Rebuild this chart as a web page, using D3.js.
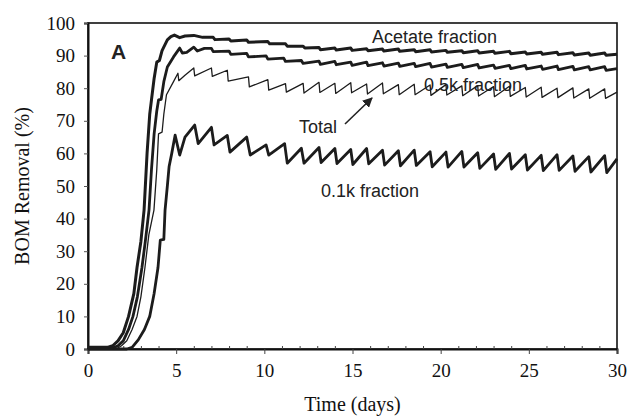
<!DOCTYPE html>
<html>
<head>
<meta charset="utf-8">
<script src="https://cdn.jsdelivr.net/npm/d3@7"></script>
<style>
  html, body { margin: 0; padding: 0; background: #fff; }
  svg { display: block; }
</style>
</head>
<body>
<svg id="chart" width="634" height="417"></svg>
<script>
// BOM removal over time for each fraction: [day, removal %]
const acetate = [
  [0, 0.5], [1.1, 0.5], [1.4, 1], [1.7, 2.5], [2.0, 5], [2.3, 10], [2.6, 17], [2.78, 25],
  [3.0, 33], [3.18, 42.6], [3.35, 60], [3.5, 72], [3.6, 76.4], [3.75, 83], [3.9, 88],
  [4.05, 88.5], [4.2, 91.5], [4.5, 94.8], [4.7, 95.8], [4.9, 96.3], [5.2, 95.5], [5.5, 96],
  [6.0, 96.2], [6.5, 95.6], [7.1, 95.6], [7.2, 94.9], [8.0, 95.1], [8.1, 94.5], [9.0, 94.8],
  [9.1, 94.1], [10.2, 94.3], [10.3, 93.6], [11.2, 93.6], [11.3, 92.9], [12.2, 92.9], [12.3, 92.3],
  [13.1, 92.5], [13.18, 91.8], [14.0, 92.3], [14.08, 91.7], [14.9, 92.3], [14.98, 91.6],
  [15.8, 92.1], [15.88, 91.5], [16.7, 92.0], [16.78, 91.4], [17.6, 92.0], [17.68, 91.3],
  [18.5, 91.8], [18.58, 91.2], [19.4, 91.8], [19.48, 91.1], [20.3, 91.6], [20.38, 91.0],
  [21.2, 91.5], [21.28, 90.9], [22.1, 91.5], [22.18, 90.8], [23.0, 91.3], [23.08, 90.7],
  [23.9, 91.3], [23.98, 90.6], [24.8, 91.1], [24.88, 90.5], [25.7, 91.0], [25.78, 90.4],
  [26.6, 91.0], [26.68, 90.3], [27.5, 90.9], [27.58, 90.2], [28.4, 90.8], [28.48, 90.1],
  [29.3, 90.8], [29.38, 90.1], [30, 90.4]
];

const fraction05k = [
  [0, 0.3], [1.4, 0.3], [1.7, 1], [2.0, 2.5], [2.3, 6], [2.55, 10], [2.8, 16], [3.06, 25],
  [3.25, 33], [3.46, 42.6], [3.6, 55], [3.75, 66], [3.9, 73], [4.0, 76.4], [4.15, 76.6],
  [4.3, 82], [4.5, 86.5], [4.85, 89.6], [5.2, 92.3], [5.35, 90.8], [5.6, 91], [6.0, 92.6],
  [6.2, 91.4], [6.6, 92.2], [7.0, 92.2], [7.1, 91.2], [8.0, 91.4], [8.1, 90.4], [9.0, 90.7],
  [9.1, 89.6], [10.1, 89.9], [10.2, 88.9], [11.1, 89.2], [11.2, 88.2], [12.1, 88.5], [12.2, 87.6],
  [13.1, 88.3], [13.18, 87.3], [14.0, 88.2], [14.08, 87.2], [14.9, 88.0], [14.98, 87.0],
  [15.8, 88.0], [15.88, 86.9], [16.7, 87.8], [16.78, 86.8], [17.6, 87.7], [17.68, 86.7],
  [18.5, 87.6], [18.58, 86.6], [19.4, 87.6], [19.48, 86.5], [20.3, 87.4], [20.38, 86.4],
  [21.2, 87.3], [21.28, 86.3], [22.1, 87.3], [22.18, 86.2], [23.0, 87.1], [23.08, 86.1],
  [23.9, 87.0], [23.98, 86.0], [24.8, 87.0], [24.88, 85.9], [25.7, 86.8], [25.78, 85.8],
  [26.6, 86.8], [26.68, 85.7], [27.5, 86.7], [27.58, 85.6], [28.4, 86.6], [28.48, 85.6],
  [29.3, 86.6], [29.38, 85.5], [30, 86.0]
];

const total = [
  [0, 0], [1.6, 0], [1.9, 1], [2.2, 2.5], [2.5, 6], [2.78, 10], [3.0, 16], [3.23, 25],
  [3.45, 35], [3.74, 42.6], [3.9, 55], [4.0, 66], [4.2, 66.5], [4.3, 72], [4.45, 78],
  [4.85, 82], [5.1, 84.6], [5.15, 82.3], [5.5, 84], [6.0, 86.2], [6.05, 83.8], [7.0, 86.2],
  [7.05, 83.6], [7.9, 85.5], [7.95, 82.2], [9.1, 83.5], [9.15, 80.4], [10.2, 82.6], [10.25, 79.4],
  [11.2, 81.4], [11.25, 78.8], [12.2, 81.5], [12.25, 78.5], [13.1, 81.8], [13.15, 78.7],
  [14.0, 81.5], [14.05, 78.4], [14.9, 81.7], [14.95, 78.6], [15.8, 81.3], [15.85, 78.2],
  [16.7, 81.6], [16.75, 78.3], [17.6, 81.1], [17.65, 78.0], [18.5, 81.2], [18.55, 78.0],
  [19.4, 81.0], [19.45, 77.8], [20.3, 81.1], [20.35, 77.9], [21.2, 80.7], [21.25, 77.7],
  [22.1, 80.8], [22.15, 77.6], [23.0, 80.5], [23.05, 77.4], [23.9, 80.6], [23.95, 77.5],
  [24.8, 80.2], [24.85, 77.3], [25.7, 80.3], [25.75, 77.2], [26.6, 80.0], [26.65, 77.1],
  [27.5, 80.1], [27.55, 77.0], [28.4, 79.8], [28.45, 76.9], [29.3, 79.8], [29.35, 76.9],
  [30, 78.8]
];

const fraction01k = [
  [0, 0], [2.2, 0], [2.5, 0.5], [2.85, 2.8], [3.2, 6], [3.5, 10], [3.75, 17], [3.97, 25],
  [4.1, 33.4], [4.3, 33.6], [4.37, 42.6], [4.5, 50], [4.6, 56], [4.75, 60], [4.94, 65.6],
  [5.2, 59.5], [5.5, 65], [6.05, 68.7], [6.25, 63], [7.0, 68], [7.15, 62.6], [7.9, 65.5],
  [8.05, 60.4], [9.0, 65], [9.2, 59.5], [10.1, 62.6], [10.25, 59.5], [11.15, 63], [11.3, 57],
  [12.1, 61.6], [12.25, 57], [13.1, 61.8], [13.22, 57.2], [14.0, 61.5], [14.12, 56.9],
  [14.9, 61.2], [15.02, 56.6], [15.8, 61.5], [15.92, 56.8], [16.7, 61.0], [16.82, 56.4],
  [17.6, 60.8], [17.72, 56.2], [18.5, 61.0], [18.62, 56.3], [19.4, 60.5], [19.52, 55.9],
  [20.3, 60.4], [20.42, 55.8], [21.2, 60.6], [21.32, 55.8], [22.1, 60.2], [22.22, 55.4],
  [23.0, 59.8], [23.12, 55.1], [23.9, 60.0], [24.02, 55.2], [24.8, 59.6], [24.92, 54.9],
  [25.7, 59.4], [25.82, 54.7], [26.6, 59.6], [26.72, 54.8], [27.5, 59.2], [27.62, 54.5],
  [28.4, 59.0], [28.52, 54.3], [29.3, 59.3], [29.42, 54.1], [30, 58.3]
];

const yTicks = [0, 10, 20, 30, 40, 50, 60, 70, 80, 90, 100];
const xTicks = [0, 5, 10, 15, 20, 25, 30];
const xMinorTicks = d3.range(1, 30).filter(d => d % 5 !== 0);

const svg = d3.select("#chart");
const plot = { left: 88, right: 617, top: 23, bottom: 349 };

const x = d3.scaleLinear().domain([0, 30]).range([plot.left, plot.right]);
const y = d3.scaleLinear().domain([0, 100]).range([plot.bottom, plot.top]);

const serif = "'Liberation Serif', 'Times New Roman', serif";
const sans = "'Liberation Sans', Arial, sans-serif";

// plot frame
svg.append("rect")
  .attr("x", plot.left).attr("y", plot.top)
  .attr("width", plot.right - plot.left).attr("height", plot.bottom - plot.top)
  .attr("fill", "none").attr("stroke", "#111").attr("stroke-width", 1.6);

// y axis
const yAxis = svg.append("g")
  .attr("transform", `translate(${plot.left},0)`)
  .call(d3.axisLeft(y).tickValues(yTicks).tickSize(4).tickPadding(9).tickFormat(d3.format("d")));
yAxis.select(".domain").attr("stroke", "#111").attr("stroke-width", 2);
yAxis.selectAll(".tick line").attr("stroke", "#555");
yAxis.selectAll("text").attr("font-family", serif).attr("font-size", 19).attr("fill", "#111");

// x axis: labelled major ticks and small inner day ticks
const xAxis = svg.append("g")
  .attr("transform", `translate(0,${plot.bottom})`)
  .call(d3.axisBottom(x).tickValues(xTicks).tickSize(5).tickPadding(10));
xAxis.select(".domain").attr("stroke", "#111").attr("stroke-width", 2);
xAxis.selectAll(".tick line").attr("stroke", "#444");
xAxis.selectAll("text").attr("font-family", serif).attr("font-size", 19).attr("fill", "#111");

const xMinor = svg.append("g")
  .attr("transform", `translate(0,${plot.bottom})`)
  .call(d3.axisBottom(x).tickValues(xMinorTicks).tickSize(-3).tickFormat(""));
xMinor.select(".domain").remove();
xMinor.selectAll(".tick line").attr("stroke", "#444");

// axis titles
svg.append("text")
  .attr("x", (plot.left + plot.right) / 2).attr("y", 411)
  .attr("text-anchor", "middle")
  .attr("font-family", serif).attr("font-size", 20).attr("fill", "#111")
  .text("Time (days)");

svg.append("text")
  .attr("transform", `translate(29,${(plot.top + plot.bottom) / 2}) rotate(-90)`)
  .attr("text-anchor", "middle")
  .attr("font-family", serif).attr("font-size", 20).attr("fill", "#111")
  .text("BOM Removal (%)");

// series lines
const line = d3.line().x(d => x(d[0])).y(d => y(d[1]));
const series = [
  { data: total, width: 1.3 },
  { data: fraction01k, width: 2.8 },
  { data: fraction05k, width: 2.8 },
  { data: acetate, width: 3 }
];
svg.append("g").selectAll("path")
  .data(series)
  .join("path")
  .attr("d", d => line(d.data))
  .attr("fill", "none")
  .attr("stroke", "#1c1c1c")
  .attr("stroke-width", d => d.width)
  .attr("stroke-linejoin", "round");

// panel letter
svg.append("text")
  .attr("x", 111).attr("y", 59)
  .attr("font-family", sans).attr("font-weight", "bold").attr("font-size", 21).attr("fill", "#222")
  .text("A");

// curve labels
const notes = [
  { label: "Acetate fraction", x: 372, y: 43 },
  { label: "0.5k fraction", x: 424, y: 91 },
  { label: "Total", x: 299, y: 133 },
  { label: "0.1k fraction", x: 321, y: 197 }
];
svg.append("g").selectAll("text")
  .data(notes)
  .join("text")
  .attr("x", d => d.x).attr("y", d => d.y)
  .attr("font-family", sans).attr("font-size", 18).attr("fill", "#222")
  .text(d => d.label);

// arrow from the "Total" label to its curve
const defs = svg.append("defs");
defs.append("marker")
  .attr("id", "arrowhead")
  .attr("viewBox", "0 0 10 10")
  .attr("refX", 9).attr("refY", 5)
  .attr("markerWidth", 10).attr("markerHeight", 10)
  .attr("markerUnits", "userSpaceOnUse")
  .attr("orient", "auto")
  .append("path")
  .attr("d", "M0,0 L10,5 L0,10 Z")
  .attr("fill", "#222");

svg.append("line")
  .attr("x1", 345).attr("y1", 124)
  .attr("x2", 372).attr("y2", 98)
  .attr("stroke", "#222").attr("stroke-width", 1.6)
  .attr("marker-end", "url(#arrowhead)");
</script>
</body>
</html>
